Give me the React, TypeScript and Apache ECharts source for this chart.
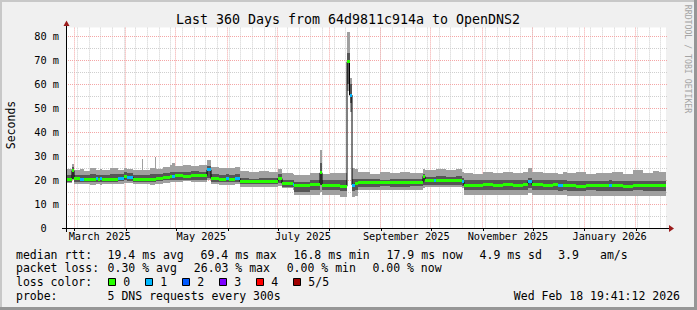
import { useEffect, useRef } from 'react';
import * as echarts from 'echarts';

// ---- time frame: last 360 days ending Wed Feb 18 19:41:12 2026 ----
const START_MS = Date.UTC(2025, 1, 23, 19, 41, 12);
const DAY_MS = 86400000;
const SPAN_DAYS = 360;

// ---- smoke / median segments (day offsets from start) ----
const segEnd = [3.6, 4.8, 8.4, 10.8, 14.4, 18.0, 19.2, 20.4, 21.6, 26.4, 31.2, 34.8, 36.6, 40.2, 45.6, 46.2, 50.4, 53.1, 53.7, 58.0, 62.4, 63.6, 65.4, 70.0, 75.0, 80.0, 84.6, 87.0, 92.0, 96.0, 97.8, 101.5, 104.4, 110.0, 116.0, 122.0, 127.2, 129.6, 136.2, 137.0, 146.4, 152.4, 153.6, 158.4, 164.4, 168.6, 170.1, 171.6, 173.4, 175.2, 182.4, 188.4, 194.4, 200.4, 206.4, 214.2, 215.4, 221.0, 222.0, 228.0, 234.0, 237.6, 238.8, 244.0, 250.0, 256.0, 262.0, 268.0, 274.0, 277.2, 279.6, 286.0, 292.0, 295.2, 298.2, 300.6, 306.0, 312.0, 318.0, 326.0, 327.6, 334.0, 340.0, 346.0, 352.0, 356.0, 360.0];
const smokeMin = [18.6, 19.8, 18.4, 18.2, 18.3, 18.0, 18.2, 18.3, 18.1, 18.4, 18.2, 18.5, 18.8, 18.7, 18.2, 18.2, 18.3, 18.1, 18.2, 18.4, 18.8, 19.2, 19.3, 19.3, 19.4, 19.2, 19.3, 19.8, 18.2, 18.0, 18.1, 18.0, 18.2, 17.0, 16.9, 17.1, 17.0, 17.3, 16.5, 16.0, 13.8, 13.8, 15.0, 13.8, 13.7, 13.0, 57.0, 48.5, 13.0, 13.5, 15.8, 15.7, 15.9, 15.8, 15.7, 15.8, 16.5, 17.0, 17.1, 17.2, 17.1, 17.2, 16.5, 13.8, 13.7, 13.9, 13.8, 13.7, 13.8, 13.9, 14.5, 13.8, 13.7, 13.8, 13.6, 13.7, 13.3, 13.2, 13.4, 13.3, 13.3, 13.2, 13.3, 13.4, 13.3, 13.2, 13.3];
const smokeLo = [19.3, 20.6, 19.3, 19.2, 19.3, 19.1, 19.3, 19.2, 19.2, 19.3, 19.2, 19.4, 19.8, 19.7, 19.3, 19.3, 19.3, 19.2, 19.3, 19.5, 19.9, 20.1, 20.2, 20.0, 20.1, 20.0, 20.1, 21.0, 19.2, 19.0, 19.1, 19.0, 19.2, 18.2, 18.3, 18.2, 18.3, 18.8, 17.2, 17.0, 15.1, 15.8, 18.0, 15.8, 15.7, 15.5, 60.0, 52.0, 15.5, 16.0, 17.2, 17.1, 17.3, 17.2, 17.2, 17.3, 18.0, 18.0, 18.0, 17.9, 18.0, 18.1, 17.5, 15.8, 15.7, 15.9, 15.8, 15.7, 15.8, 15.9, 16.5, 15.8, 15.7, 15.8, 15.6, 15.7, 15.6, 15.5, 15.7, 15.6, 15.6, 15.5, 15.6, 15.7, 15.6, 15.5, 15.6];
const medianRtt = [20.4, 23.9, 20.6, 20.3, 20.4, 20.3, 20.5, 20.4, 20.5, 20.4, 20.3, 20.6, 21.3, 21.2, 20.3, 20.3, 20.3, 20.4, 20.4, 20.7, 21.0, 21.4, 21.6, 21.7, 21.6, 21.7, 21.8, 24.2, 20.5, 20.4, 20.6, 20.4, 20.7, 19.3, 19.4, 19.3, 19.4, 20.6, 18.6, 18.3, 17.9, 18.2, 23.0, 17.9, 17.8, 17.4, 69.3, 55.4, 17.9, 18.5, 18.9, 18.8, 19.0, 18.9, 18.8, 19.0, 21.5, 19.8, 19.6, 19.8, 19.9, 20.0, 19.2, 17.9, 17.8, 18.0, 17.9, 18.1, 17.9, 18.2, 19.3, 18.0, 17.9, 18.1, 17.6, 17.8, 17.6, 17.5, 17.7, 17.6, 17.8, 17.7, 17.5, 17.6, 17.7, 17.6, 17.7];
const smokeHi = [22.1, 25.4, 22.0, 22.2, 22.0, 22.3, 22.1, 22.0, 22.2, 22.2, 22.4, 22.3, 23.2, 22.9, 22.1, 22.2, 22.0, 22.3, 22.4, 22.5, 23.0, 23.2, 23.4, 23.5, 23.3, 23.6, 23.4, 26.0, 22.4, 22.2, 22.3, 22.0, 22.5, 20.8, 20.6, 20.7, 20.8, 22.5, 20.0, 20.0, 19.3, 20.0, 27.0, 20.0, 20.1, 19.8, 72.8, 60.2, 20.3, 20.3, 20.3, 20.4, 20.2, 20.3, 20.4, 20.3, 22.5, 21.4, 21.3, 21.5, 21.4, 21.6, 21.0, 20.0, 20.1, 20.0, 19.9, 20.1, 20.0, 20.2, 21.0, 20.0, 20.1, 20.0, 19.8, 20.0, 19.6, 19.7, 19.6, 19.7, 19.8, 19.6, 19.7, 19.6, 19.7, 19.6, 19.7];
const smokeMax = [24.4, 26.8, 24.0, 24.6, 23.8, 25.1, 24.2, 24.0, 24.5, 24.3, 24.9, 24.2, 25.2, 24.7, 24.2, 28.6, 24.3, 24.8, 29.7, 24.6, 25.4, 26.4, 27.2, 26.0, 26.3, 25.8, 26.2, 28.3, 25.3, 24.9, 25.0, 25.1, 25.4, 23.6, 23.2, 23.8, 23.3, 24.5, 22.8, 22.5, 22.0, 22.8, 32.5, 22.6, 23.0, 22.8, 81.8, 62.5, 24.9, 24.5, 23.2, 22.7, 23.4, 22.9, 23.3, 22.8, 24.5, 24.3, 24.0, 24.6, 24.1, 24.4, 23.5, 23.1, 22.6, 23.4, 22.8, 23.2, 22.9, 23.5, 24.8, 23.3, 22.8, 23.0, 22.7, 23.2, 22.8, 23.2, 22.6, 23.0, 22.9, 23.4, 22.7, 24.0, 23.1, 23.8, 23.2];
const lossCount = [0, 0, 0, 1, 0, 0, 1, 0, 1, 0, 0, 1, 0, 1, 0, 0, 0, 0, 0, 0, 0, 0, 1, 0, 0, 0, 0, 1, 0, 0, 1, 0, 1, 0, 0, 0, 0, 0, 0, 1, 0, 0, 0, 0, 0, 0, 0, 1, 1, 0, 0, 0, 0, 0, 0, 0, 0, 0, 1, 0, 0, 0, 1, 0, 0, 0, 0, 0, 0, 0, 1, 0, 0, 0, 1, 0, 0, 0, 0, 0, 1, 0, 0, 0, 0, 0, 0];

// ---- loss colour legend ----
const lossLabels = ['0', '1', '2', '3', '4', '5/5'];
const lossColors = ['#26ff00', '#00b8ff', '#0059ff', '#7e00ff', '#ff0000', '#a00000'];

// ---- x axis: month grid lines & labels ----
const monthStarts: [number, number][] = [[2025, 2], [2025, 3], [2025, 4], [2025, 5], [2025, 6], [2025, 7], [2025, 8], [2025, 9], [2025, 10], [2025, 11], [2026, 0], [2026, 1]];
const labelMonths: [number, number, string][] = [[2025, 2, 'March 2025'], [2025, 4, 'May 2025'], [2025, 6, 'July 2025'], [2025, 8, 'September 2025'], [2025, 10, 'November 2025'], [2026, 0, 'January 2026']];
const firstMonday: [number, number, number] = [2025, 2, 3];

// ---- y axis ----
const yMaxMs = 83.5;
const yMajor = [10, 20, 30, 40, 50, 60, 70, 80];
const yMinor = [5, 15, 25, 35, 45, 55, 65, 75];

// ---- legend text ----
const rttStats: [string, number][] = [['19.4 ms avg', 107.6], ['69.4 ms max', 200.6], ['16.8 ms min', 293.6], ['17.9 ms now', 386.6], ['4.9 ms sd', 479.6], ['3.9', 558.2], ['am/s', 600]];
const lossStats: [string, number][] = [['0.30 % avg', 107.6], ['26.03 % max', 193.8], ['0.00 % min', 286.7], ['0.00 % now', 372.4]];

const dayOf = (y: number, m: number, d: number) => (Date.UTC(y, m, d) - START_MS) / DAY_MS;

const FONT = '"DejaVu Sans Mono", monospace';
const LIGHT = '#a0a0a0';
const DARK = '#565656';

export default function App() {
  const ref = useRef<HTMLDivElement>(null);
  useEffect(() => {
    const chart = echarts.init(ref.current!, null, { renderer: 'svg' });

    const segs = segEnd.map((e, i) => [i === 0 ? 0 : segEnd[i - 1], e, smokeMin[i], smokeLo[i], medianRtt[i], smokeHi[i], smokeMax[i], lossCount[i]]);
    const medLine: [number, number][] = [];
    segs.forEach((s) => { medLine.push([s[0], s[4]]); medLine.push([s[1], s[4]]); });

    const monthDays = monthStarts.map(([y, m]) => dayOf(y, m, 1));
    const weekDays: number[] = [];
    for (let d = dayOf(...firstMonday); d < SPAN_DAYS; d += 7) weekDays.push(d);
    const labelDays = labelMonths.map(([y, m]) => dayOf(y, m, 1) + 15);
    const labelText = new Map(labelDays.map((d, i) => [d.toFixed(3), labelMonths[i][2]]));

    const vGrid = (data: number[], color: string, z: number) => ({
      type: 'custom', z, silent: true, clip: false,
      data: data.map((d) => [d, 0]),
      renderItem: (params: any, api: any) => {
        const cs = params.coordSys;
        const x = Math.round(api.coord([api.value(0), 0])[0]) - 0.5;
        return { type: 'line', shape: { x1: x, y1: cs.y, x2: x, y2: cs.y + cs.height }, style: { stroke: color, lineWidth: 1, lineDash: [1, 1] } };
      },
    });
    const hGrid = (data: number[], color: string, z: number) => ({
      type: 'custom', z, silent: true, clip: false,
      data: data.map((v) => [0, v]),
      renderItem: (params: any, api: any) => {
        const cs = params.coordSys;
        const y = Math.round(api.coord([0, api.value(1)])[1]) + 0.5;
        return { type: 'line', shape: { x1: cs.x, y1: y, x2: cs.x + cs.width + 2, y2: y }, style: { stroke: color, lineWidth: 1, lineDash: [1, 1] } };
      },
    });

    const GRAY_GRID = '#cfcfcf';
    const RED_GRID = '#f4a6a6';

    const text = (t: string, x: number, y: number, extra: any = {}) => ({
      type: 'text', x, y, silent: true, z: 10,
      style: { text: t, font: `11.5px ${FONT}`, fill: '#000', align: 'left', verticalAlign: 'middle', ...extra },
    });

    const rows = [254.5, 268.3, 282.3, 296];
    const graphics: any[] = [
      { type: 'rect', shape: { x: 0, y: 0, width: 697, height: 2 }, style: { fill: '#c8c8c8' }, z: 10 },
      { type: 'rect', shape: { x: 0, y: 0, width: 2, height: 310 }, style: { fill: '#c8c8c8' }, z: 10 },
      { type: 'rect', shape: { x: 0, y: 307, width: 697, height: 3 }, style: { fill: '#969696' }, z: 10 },
      { type: 'rect', shape: { x: 694, y: 0, width: 3, height: 310 }, style: { fill: '#969696' }, z: 10 },
      // axes
      { type: 'line', shape: { x1: 62, y1: 228.5, x2: 669, y2: 228.5 }, style: { stroke: '#000', lineWidth: 1 }, z: 10 },
      { type: 'line', shape: { x1: 66.5, y1: 232, x2: 66.5, y2: 26 }, style: { stroke: '#000', lineWidth: 1 }, z: 10 },
      { type: 'polygon', shape: { points: [[669, 225], [674, 228.5], [669, 232]] }, style: { fill: '#9b1c1c' }, z: 10 },
      { type: 'polygon', shape: { points: [[63.5, 26], [66.5, 20.5], [69.5, 26]] }, style: { fill: '#9b1c1c' }, z: 10 },
      text('Last 360 Days from 64d9811c914a to OpenDNS2', 348, 19, { align: 'center', font: `13.3px ${FONT}` }),
      { type: 'text', x: 11, y: 125, rotation: Math.PI / 2, silent: true, z: 10,
        style: { text: 'Seconds', font: `11.5px ${FONT}`, fill: '#000', align: 'center', verticalAlign: 'middle' } },
      { type: 'text', x: 688, y: 59, rotation: -Math.PI / 2, silent: true, z: 10,
        style: { text: 'RRDTOOL / TOBI OETIKER', font: `8.2px ${FONT}`, fill: '#a4a4a4', align: 'center', verticalAlign: 'middle' } },
      text('median rtt:', 16, rows[0]),
      ...rttStats.map(([t, x]) => text(t, x, rows[0])),
      text('packet loss:', 16, rows[1]),
      ...lossStats.map(([t, x]) => text(t, x, rows[1])),
      text('loss color:', 16, rows[2]),
      ...lossLabels.flatMap((l, i) => [
        { type: 'rect', shape: { x: 108.5 + i * 37, y: 278.5, width: 7, height: 7 }, style: { fill: lossColors[i], stroke: '#000', lineWidth: 1 }, z: 10 },
        text(l, 123.3 + i * 37, rows[2]),
      ]),
      text('probe:', 16, rows[3]),
      text('5 DNS requests every 300s', 107.6, rows[3]),
      text('Wed Feb 18 19:41:12 2026', 680, rows[3], { align: 'right' }),
    ];

    chart.setOption({
      animation: false,
      backgroundColor: '#f0f0f0',
      grid: { left: 66, top: 27.6, width: 600, height: 200.4, show: true, backgroundColor: '#ffffff', borderWidth: 0 },
      xAxis: {
        type: 'value', min: 0, max: SPAN_DAYS,
        axisLine: { show: false },
        splitLine: { show: false },
        axisTick: { show: true, customValues: monthDays, length: 3, lineStyle: { color: '#000' } },
        axisLabel: {
          customValues: labelDays, margin: 3,
          fontFamily: FONT, fontSize: 10.3, color: '#000',
          formatter: (v: number) => labelText.get(v.toFixed(3)) ?? '',
        },
      },
      yAxis: {
        type: 'value', min: 0, max: yMaxMs, interval: 10,
        axisLine: { show: false }, axisTick: { show: false }, splitLine: { show: false },
        axisLabel: {
          margin: 7, fontFamily: FONT, fontSize: 10.3, color: '#000',
          formatter: (v: number) => (v % 10 !== 0 ? '' : v === 0 ? '0\u00a0\u00a0' : `${v} m`),
        },
      },
      graphic: graphics,
      series: [
        vGrid(weekDays, GRAY_GRID, 0),
        hGrid(yMinor, GRAY_GRID, 0),
        vGrid(monthDays, RED_GRID, 1),
        hGrid(yMajor, RED_GRID, 1),
        {
          type: 'custom', z: 2, silent: true,
          data: segs,
          encode: { x: [0, 1], y: [2, 6] },
          renderItem: (_p: any, api: any) => {
            const x0 = Math.round(api.coord([api.value(0), 0])[0]);
            let x1 = Math.round(api.coord([api.value(1), 0])[0]);
            if (x1 <= x0) x1 = x0 + 1;
            const y = (v: number) => Math.round(api.coord([0, v])[1]);
            const yMin = y(api.value(2)), yLo = y(api.value(3)), yHi = y(api.value(5)), yMax = y(api.value(6));
            return {
              type: 'group', children: [
                { type: 'rect', shape: { x: x0, y: yMax, width: x1 - x0, height: yMin - yMax }, style: { fill: LIGHT } },
                { type: 'rect', shape: { x: x0, y: yHi, width: x1 - x0, height: yLo - yHi }, style: { fill: DARK } },
              ],
            };
          },
        },
        {
          type: 'line', z: 3, silent: true, data: medLine, symbol: 'none',
          lineStyle: { color: '#000', width: 1 },
        },
        {
          type: 'custom', z: 4, silent: true,
          data: segs,
          encode: { x: [0, 1], y: 4 },
          renderItem: (_p: any, api: any) => {
            const x0 = Math.round(api.coord([api.value(0), 0])[0]);
            let x1 = Math.round(api.coord([api.value(1), 0])[0]);
            if (x1 <= x0) x1 = x0 + 1;
            const yc = api.coord([0, api.value(4)])[1];
            return { type: 'rect', shape: { x: x0, y: Math.round(yc - 1.5), width: x1 - x0, height: 3 }, style: { fill: lossColors[api.value(7)] } };
          },
        },
      ],
    } as any);
    return () => chart.dispose();
  }, []);
  return <div ref={ref} style={{ position: 'fixed', left: 0, top: 0, width: 697, height: 310 }} />;
}
